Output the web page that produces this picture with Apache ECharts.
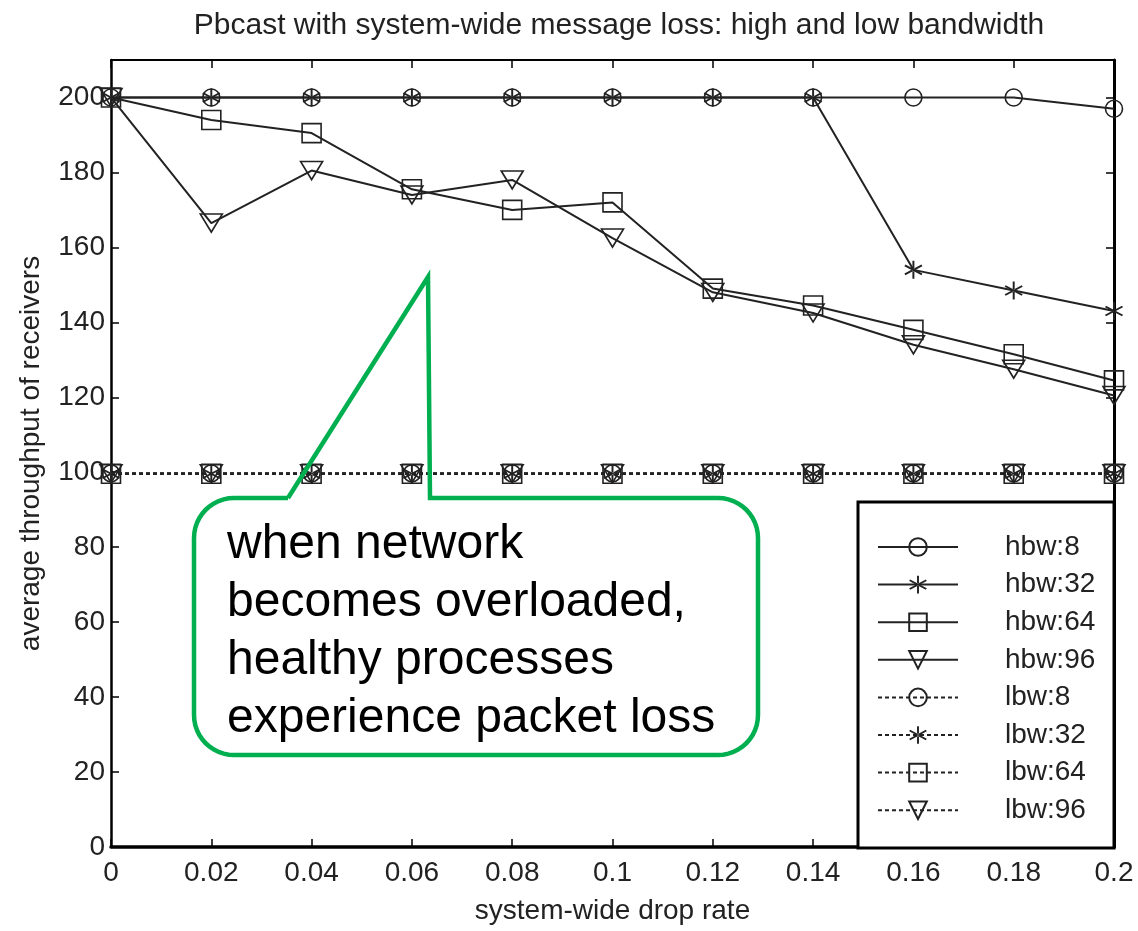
<!DOCTYPE html>
<html>
<head>
<meta charset="utf-8">
<script src="https://cdn.jsdelivr.net/npm/echarts@6/dist/echarts.min.js"></script>
<style>
  html, body { margin: 0; padding: 0; background: #fff; }
  #chart { width: 1138px; height: 931px; }
</style>
</head>
<body>
<div id="chart"></div>
<script>
// Drop rates on the x axis
const dropRates = [0, 0.02, 0.04, 0.06, 0.08, 0.1, 0.12, 0.14, 0.16, 0.18, 0.2];

// High-bandwidth runs (group sizes 8, 32, 64, 96)
const hbw8  = [200, 200, 200, 200, 200, 200, 200, 200, 200, 200, 197];
const hbw32 = [200, 200, 200, 200, 200, 200, 200, 200, 154, 148.5, 143];
const hbw64 = [200, 194, 190.5, 175.5, 170, 172, 149, 144.5, 138, 131.5, 124.5];
const hbw96 = [200, 166.5, 180.5, 174, 178, 162.5, 148, 142.5, 134, 127.5, 120.5];

// Low-bandwidth runs
const lbw8  = [99.7, 99.7, 99.7, 99.7, 99.7, 99.7, 99.7, 99.7, 99.7, 99.7, 99.7];
const lbw32 = [99.6, 99.6, 99.6, 99.6, 99.6, 99.6, 99.6, 99.6, 99.6, 99.6, 99.6];
const lbw64 = [99.6, 99.6, 99.6, 99.6, 99.6, 99.6, 99.6, 99.6, 99.6, 99.6, 99.6];
const lbw96 = [99.6, 99.6, 99.6, 99.6, 99.6, 99.6, 99.6, 99.6, 99.6, 99.6, 99.6];

const seriesNames = ['hbw:8', 'hbw:32', 'hbw:64', 'hbw:96', 'lbw:8', 'lbw:32', 'lbw:64', 'lbw:96'];
const seriesValues = [hbw8, hbw32, hbw64, hbw96, lbw8, lbw32, lbw64, lbw96];

const titleText = 'Pbcast with system-wide message loss: high and low bandwidth';
const xName = 'system-wide drop rate';
const yName = 'average throughput of receivers';
const calloutLines = ['when network', 'becomes overloaded,', 'healthy processes', 'experience packet loss'];

const FONT = '"Liberation Sans", Arial, sans-serif';
const INK = '#222';
const GREEN = '#00b050';

// Marker shapes: hollow circle, asterisk, hollow square, hollow down-triangle
const ASTERISK = 'path://M9,0 L11,0 L11,20 L9,20 Z M18.16,15.87 L19.16,14.13 L1.84,4.13 L0.84,5.87 Z M19.16,5.87 L18.16,4.13 L0.84,14.13 L1.84,15.87 Z';
const TRI_DOWN = 'path://M0,0 L22,0 L11,18 Z';
const markerDefs = [
  { symbol: 'circle', size: 17, filled: false },
  { symbol: ASTERISK, size: 18, filled: true },
  { symbol: 'rect', size: 19, filled: false },
  { symbol: TRI_DOWN, size: [22, 18], filled: false }
];

function toPairs(values) {
  return values.map((v, i) => [dropRates[i], v]);
}

const series = seriesNames.map((name, k) => {
  const m = markerDefs[k % 4];
  const dashed = k >= 4;
  return {
    name: name,
    type: 'line',
    data: toPairs(seriesValues[k]),
    symbol: m.symbol,
    symbolSize: m.size,
    showAllSymbol: true,
    animation: false,
    lineStyle: { color: INK, width: 2, type: dashed ? [4, 3] : 'solid' },
    itemStyle: m.filled
      ? { color: INK, borderWidth: 0 }
      : { color: 'rgba(0,0,0,0)', borderColor: INK, borderWidth: 1.6 },
    emphasis: { disabled: true },
    z: 3
  };
});

// Callout bubble outline: rounded box with a pointer rising from its top edge
function calloutPoints() {
  const x0 = 194, y0 = 498, x1 = 758, y1 = 755, r = 40;
  const pts = [[288, y0], [428, 277], [430, y0]];
  function arc(cx, cy, a0, a1) {
    const n = 12;
    for (let i = 0; i <= n; i++) {
      const a = a0 + (a1 - a0) * i / n;
      pts.push([cx + r * Math.cos(a), cy + r * Math.sin(a)]);
    }
  }
  arc(x1 - r, y0 + r, -Math.PI / 2, 0);
  arc(x1 - r, y1 - r, 0, Math.PI / 2);
  arc(x0 + r, y1 - r, Math.PI / 2, Math.PI);
  arc(x0 + r, y0 + r, Math.PI, Math.PI * 1.5);
  pts.push([288, y0]);
  return pts;
}

const chart = echarts.init(document.getElementById('chart'), null, { renderer: 'canvas' });

const axisText = { color: INK, fontSize: 28, fontFamily: FONT };
const tickStyle = { show: true, inside: true, length: 8, lineStyle: { color: '#000', width: 1.5 } };

chart.setOption({
  backgroundColor: '#fff',
  animation: false,
  title: {
    text: titleText,
    left: 614,
    top: 6,
    textAlign: 'center',
    textStyle: { color: INK, fontSize: 30, fontWeight: 'normal', fontFamily: FONT }
  },
  grid: { left: 111, right: 24, top: 60, bottom: 84, containLabel: false },
  legend: {
    data: seriesNames,
    orient: 'vertical',
    left: 872,
    top: 528,
    itemWidth: 80,
    itemHeight: 22,
    itemGap: 9.6,
    selectedMode: false,
    textStyle: { color: INK, fontSize: 28, fontFamily: FONT, padding: [0, 0, 0, 42], lineHeight: 24 }
  },
  xAxis: [
    {
      type: 'value', min: 0, max: 0.2, interval: 0.02,
      name: xName, nameLocation: 'middle', nameGap: 50,
      nameTextStyle: { color: INK, fontSize: 28, fontFamily: FONT },
      axisLine: { show: true, onZero: false, lineStyle: { color: '#000', width: 3.5 } },
      axisTick: tickStyle,
      axisLabel: Object.assign({ margin: 12 }, axisText),
      splitLine: { show: false }
    },
    {
      type: 'value', min: 0, max: 0.2, interval: 0.02, position: 'top',
      axisLine: { show: true, onZero: false, lineStyle: { color: '#000', width: 2 } },
      axisTick: tickStyle,
      axisLabel: { show: false },
      splitLine: { show: false }
    }
  ],
  yAxis: [
    {
      type: 'value', min: 0, max: 210, interval: 20,
      name: yName, nameLocation: 'middle', nameGap: 66, nameRotate: 90,
      nameTextStyle: { color: INK, fontSize: 28, fontFamily: FONT },
      axisLine: { show: true, onZero: false, lineStyle: { color: '#000', width: 2.5 } },
      axisTick: tickStyle,
      axisLabel: Object.assign({ margin: 6, showMaxLabel: false }, axisText),
      splitLine: { show: false }
    },
    {
      type: 'value', min: 0, max: 210, interval: 20, position: 'right',
      axisLine: { show: true, onZero: false, lineStyle: { color: '#000', width: 3 } },
      axisTick: tickStyle,
      axisLabel: { show: false },
      splitLine: { show: false }
    }
  ],
  series: series,
  graphic: [
    {
      type: 'rect', z: 1,
      shape: { x: 858, y: 502, width: 256, height: 346 },
      style: { fill: '#fff', stroke: '#000', lineWidth: 3 }
    },
    {
      type: 'polyline', z: 10,
      shape: { points: calloutPoints() },
      style: { fill: null, stroke: GREEN, lineWidth: 4.5, lineJoin: 'miter' }
    },
    {
      type: 'text', z: 10,
      x: 227, y: 516,
      style: {
        text: calloutLines.join('\n'),
        fill: '#000',
        font: '48px ' + FONT,
        lineHeight: 58,
        textVerticalAlign: 'top'
      }
    }
  ]
});
</script>
</body>
</html>
